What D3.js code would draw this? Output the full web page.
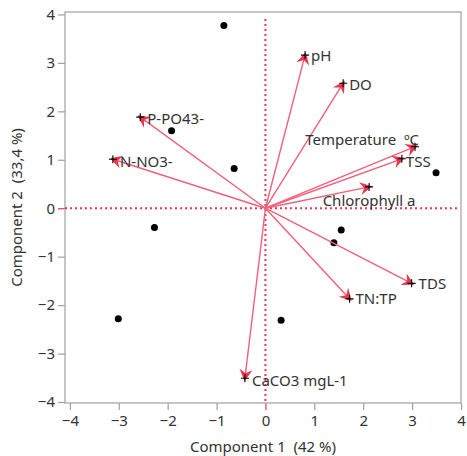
<!DOCTYPE html>
<html>
<head>
<meta charset="utf-8">
<script src="https://cdn.jsdelivr.net/npm/d3@7"></script>
<style>
  html, body { margin: 0; padding: 0; background: #fff; }
  svg { display: block; font-family: "Noto Sans", "Open Sans", sans-serif; }
</style>
</head>
<body>
<svg id="chart" width="467" height="456"></svg>
<script>
// ---- data ----
const scoreX = [-0.85, -1.92, -0.64, 3.49, -2.27, -3.01, 1.55, 1.40, 0.32];
const scoreY = [3.77, 1.60, 0.82, 0.73, -0.40, -2.28, -0.45, -0.71, -2.31];

const loadingNames = ["pH", "DO", "Temperature  ºC", "TSS", "Chlorophyll a", "P-PO43-", "N-NO3-", "TDS", "TN:TP", "CaCO3 mgL-1"];
const loadingX = [0.81, 1.59, 3.06, 2.79, 2.12, -2.56, -3.12, 2.99, 1.72, -0.42];
const loadingY = [3.16, 2.58, 1.27, 1.02, 0.44, 1.88, 1.01, -1.55, -1.87, -3.51];

const xTicks = [-4, -3, -2, -1, 0, 1, 2, 3, 4];
const yTicks = [-4, -3, -2, -1, 0, 1, 2, 3, 4];
const xTitle = "Component 1  (42 %)";
const yTitle = "Component 2  (33,4 %)";

// label placement (layout, not data)
const labelPlace = {
  "pH": {dx: 6, dy: 1, anchor: "start"},
  "DO": {dx: 6, dy: 2, anchor: "start"},
  "Temperature  ºC": {dx: 4, dy: -7, anchor: "end"},
  "TSS": {dx: 4, dy: 3, anchor: "start"},
  "Chlorophyll a": {dx: 0, dy: 14, anchor: "middle"},
  "P-PO43-": {dx: 7, dy: 2, anchor: "start"},
  "N-NO3-": {dx: 7, dy: 2, anchor: "start"},
  "TDS": {dx: 7, dy: 0, anchor: "start"},
  "TN:TP": {dx: 6, dy: 0, anchor: "start"},
  "CaCO3 mgL-1": {dx: 7, dy: 2, anchor: "start"}
};

// ---- layout ----
const mLeft = 65, mRight = 461, mTop = 12, mBottom = 403;
const svg = d3.select("#chart");
const x = d3.scaleLinear().domain([-4.1, 4.0]).range([mLeft, mRight]);
const y = d3.scaleLinear().domain([-4.02, 4.05]).range([mBottom, mTop]);

const red = "#e8384f";
const lineRed = "#f0607a";
const textCol = "#333";
const fs = "15px";

// axes
const xAxis = svg.append("g").attr("transform", `translate(0,${mBottom})`)
  .call(d3.axisBottom(x).tickValues(xTicks).tickSize(7).tickPadding(5).tickFormat(d3.format("d")));
const yAxis = svg.append("g").attr("transform", `translate(${mLeft},0)`)
  .call(d3.axisLeft(y).tickValues(yTicks).tickSize(7).tickPadding(3).tickFormat(d3.format("d")));
[xAxis, yAxis].forEach(a => {
  a.select(".domain").remove();
  a.selectAll(".tick line").attr("stroke", d => d === 0 ? red : "#a0a0a0").attr("stroke-width", 1.2);
  a.selectAll(".tick text").attr("fill", textCol).style("font-size", fs)
    .style("font-family", "'Noto Sans', 'Open Sans', sans-serif");
});

// frame
svg.append("rect").attr("x", mLeft).attr("y", mTop).attr("width", mRight - mLeft).attr("height", mBottom - mTop)
  .attr("fill", "none").attr("stroke", "#a8a8a8").attr("stroke-width", 1.3);

// zero lines
svg.append("line").attr("x1", x(0)).attr("x2", x(0)).attr("y1", mTop + 7).attr("y2", mBottom)
  .attr("stroke", red).attr("stroke-width", 2).attr("stroke-dasharray", "2,3");
svg.append("line").attr("x1", mLeft).attr("x2", mRight - 4).attr("y1", y(0)).attr("y2", y(0))
  .attr("stroke", red).attr("stroke-width", 2).attr("stroke-dasharray", "2,3");

// score points
svg.append("g").selectAll("circle").data(scoreX.map((v, i) => [v, scoreY[i]])).join("circle")
  .attr("cx", d => x(d[0])).attr("cy", d => y(d[1])).attr("r", 3.5).attr("fill", "#000");

// loadings
const loads = loadingNames.map((n, i) => ({name: n, lx: loadingX[i], ly: loadingY[i]}));
const lg = svg.append("g");
lg.selectAll("line").data(loads).join("line")
  .attr("x1", x(0)).attr("y1", y(0))
  .attr("x2", d => x(d.lx)).attr("y2", d => y(d.ly))
  .attr("stroke", lineRed).attr("stroke-width", 1.4);

// arrowheads
lg.selectAll("path.head").data(loads).join("path").attr("class", "head")
  .attr("d", "M3,0 L-9,-6.5 L-5,0 L-9,6.5 Z")
  .attr("fill", red)
  .attr("transform", d => {
    const px = x(d.lx), py = y(d.ly);
    const ang = Math.atan2(py - y(0), px - x(0)) * 180 / Math.PI;
    return `translate(${px},${py}) rotate(${ang})`;
  });

// crosses
lg.selectAll("path.cross").data(loads).join("path").attr("class", "cross")
  .attr("d", d => {
    const px = x(d.lx), py = y(d.ly);
    return `M${px - 4},${py}H${px + 4}M${px},${py - 4}V${py + 4}`;
  })
  .attr("stroke", "#000").attr("stroke-width", 1.1);

// labels
lg.selectAll("text").data(loads).join("text")
  .attr("x", d => x(d.lx) + labelPlace[d.name].dx)
  .attr("y", d => y(d.ly) + labelPlace[d.name].dy)
  .attr("dy", "0.35em")
  .attr("text-anchor", d => labelPlace[d.name].anchor)
  .attr("fill", textCol).style("font-size", fs)
  .style("white-space", "pre")
  .attr("xml:space", "preserve")
  .text(d => d.name);

// axis titles
svg.append("text").attr("x", (mLeft + mRight) / 2).attr("y", 447).attr("dy", "0.35em")
  .attr("text-anchor", "middle").attr("fill", textCol).style("font-size", fs)
  .attr("xml:space", "preserve").style("white-space", "pre").text(xTitle);
svg.append("text").attr("transform", `translate(17,${(mTop + mBottom) / 2}) rotate(-90)`).attr("dy", "0.35em")
  .attr("text-anchor", "middle").attr("fill", textCol).style("font-size", fs)
  .attr("xml:space", "preserve").style("white-space", "pre").text(yTitle);
</script>
</body>
</html>
